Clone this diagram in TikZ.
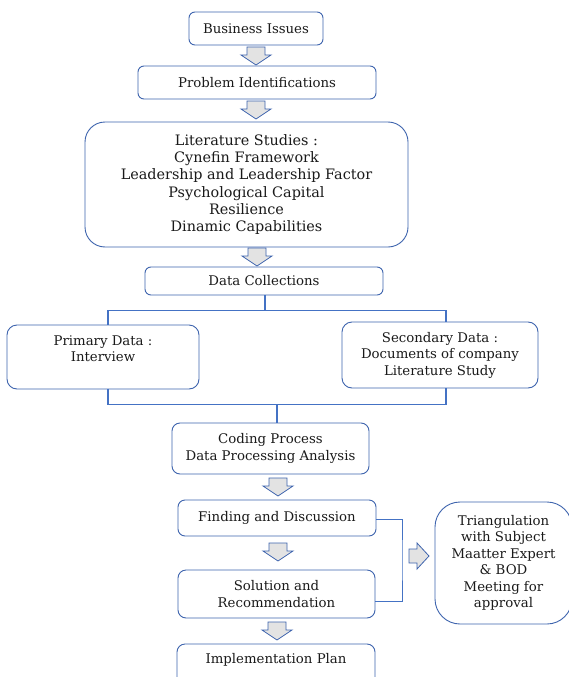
\documentclass[tikz,border=0pt]{standalone}
\usepackage{fontspec}
\setmainfont{DejaVu Serif}
\definecolor{bline}{HTML}{4472C4}
\definecolor{bbord}{HTML}{3E64AE}
\definecolor{afill}{HTML}{E3E3E3}
\definecolor{txt}{HTML}{1A1A1A}
\begin{document}
\begin{tikzpicture}[x=1pt,y=-1pt,
  box/.style={draw=bbord,line width=0.9pt,rounded corners=6pt,inner sep=0pt,align=center,
    font=\fontsize{13.3}{16.5}\selectfont,text=txt},
  conn/.style={draw=bline,line width=1.2pt},
  arrst/.style={draw=bbord,fill=afill,line width=0.8pt,line join=miter},
  darr/.pic={\path[arrst] (-9,0) -- (9,0) -- (9,8) -- (15,8) -- (0,18) -- (-15,8) -- (-9,8) -- cycle;},
  rarr/.pic={\path[arrst] (0,-7) -- (8,-7) -- (8,-13) -- (20,0) -- (8,13) -- (8,7) -- (0,7) -- cycle;}
]
\useasboundingbox (0,0) rectangle (568,677);
\fill[white] (0,0) rectangle (568,677);

\node[box,minimum width=134pt,minimum height=33pt] (bi) at (256,28.5) {Business Issues};
\node[box,minimum width=238pt,minimum height=33pt] (pi) at (257,82.5) {Problem Identifications};
\node[box,rounded corners=20pt,minimum width=323pt,minimum height=125pt,font=\fontsize{14.4}{17.2}\selectfont] (ls) at (246.5,184.5)
  {Literature Studies :\\ Cynefin Framework\\ Leadership and Leadership Factor\\ Psychological Capital\\ Resilience\\ Dinamic Capabilities};
\node[box,minimum width=238pt,minimum height=28pt] (dc) at (264,281) {Data Collections};
\node[box,rounded corners=10pt,minimum width=192pt,minimum height=64pt] (pd) at (103,357) {Primary Data :\\ Interview\\ \mbox{}};
\node[box,rounded corners=10pt,minimum width=196pt,minimum height=66pt] (sd) at (440,355) {Secondary Data :\\ Documents of company\\ Literature Study};
\node[box,rounded corners=8pt,minimum width=197pt,minimum height=51pt] (cp) at (270.5,448.5) {Coding Process\\ Data Processing Analysis};
\node[box,rounded corners=7pt,minimum width=198pt,minimum height=36pt] (fd) at (277,518) {Finding and Discussion};
\node[box,rounded corners=8pt,minimum width=197pt,minimum height=48pt] (sr) at (276.5,594) {Solution and\\ Recommendation};
\node[box,rounded corners=8pt,minimum width=198pt,minimum height=46pt] (ip) at (276,667) {Implementation Plan\\ \mbox{}};
\node[box,rounded corners=25pt,minimum width=137pt,minimum height=122pt] (tr) at (503.5,563)
  {Triangulation\\ with Subject\\ Maatter Expert\\ \& BOD\\ Meeting for\\ approval};

% block arrows
\pic at (256,47) {darr};
\pic at (256,101) {darr};
\pic at (257,248) {darr};
\pic at (278,478) {darr};
\pic at (278,543) {darr};
\pic at (277,622) {darr};
\pic at (409,556) {rarr};

% connectors
\coordinate (bt) at (265,310.5);
\coordinate (bb) at (277,404.5);
\coordinate (fb) at (402,560);
\draw[conn] (dc.south -| bt) -- (bt);
\draw[conn] ([xshift=5pt]pd.north) |- (bt) -| ([xshift=6pt]sd.north);
\draw[conn] ([xshift=5pt]pd.south) |- (bb) -| ([xshift=6pt]sd.south);
\draw[conn] (bb) -- (cp.north -| bb);
\draw[conn,line width=0.9pt] ([yshift=-1pt]fd.east) -| (fb) |- ([yshift=-7pt]sr.east);
\end{tikzpicture}
\end{document}
